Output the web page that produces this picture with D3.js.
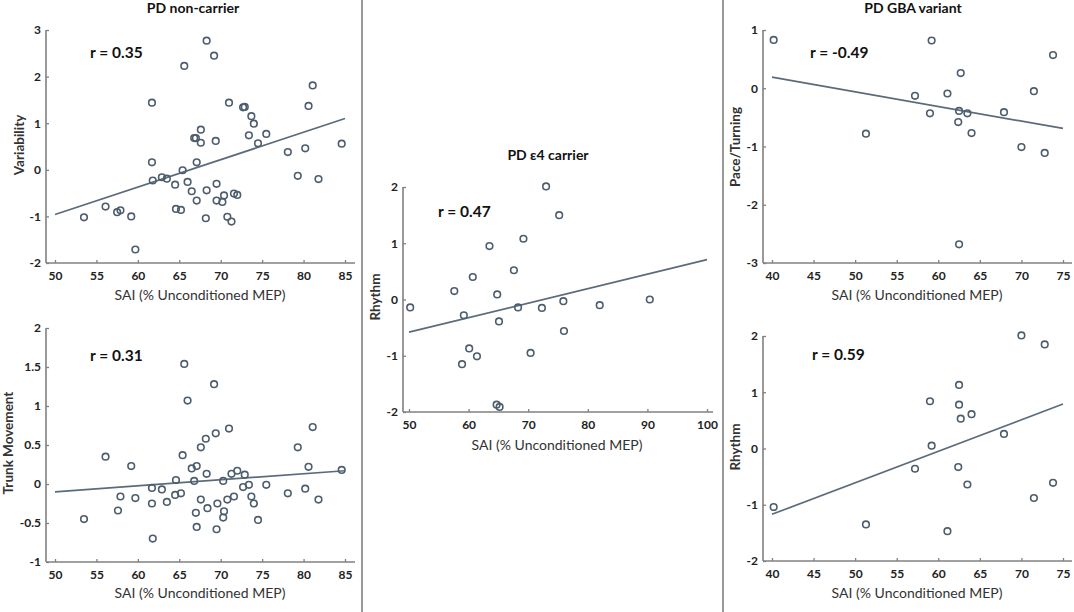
<!DOCTYPE html>
<html lang="en">
<head>
<meta charset="UTF-8">
<title>SAI correlations</title>
<style>
    body { margin: 0; background: #fff; }
    svg { display: block; font-family: Lato, "Open Sans", sans-serif; }
    .tick text { font-size: 12px; font-weight: bold; fill: #222; }
    .tick line { stroke: #808080; stroke-width: 1.3; }
    .axisLine { stroke: #808080; stroke-width: 1.6; }
    .title { font-size: 14px; font-weight: bold; fill: #111; }
    .rLabel { font-size: 15.5px; font-weight: bold; fill: #111; }
    .xLabel { font-size: 14px; fill: #333; }
    .yLabel { font-size: 13.5px; font-weight: bold; fill: #333; }
    .dot { fill: none; stroke: #4d5d6d; stroke-width: 1.6; }
    .fit { stroke: #5b6b7b; stroke-width: 1.7; }
    .sep { stroke: #555; stroke-width: 1.2; }
</style>
</head>
<body>
<svg id="chart"></svg>
<script src="https://d3js.org/d3.v7.min.js"></script>
<script>
    // --- data ---
    const nonCarrierSAI = [53.5, 56.1, 57.5, 57.9, 59.2, 59.7, 61.7, 61.7, 61.8, 62.9, 63.5, 64.5, 64.6, 65.2, 65.4, 65.6,
        66.0, 66.5, 66.8, 67.0, 67.1, 67.1, 67.6, 67.6, 68.2, 68.3, 68.3, 69.2, 69.4, 69.5, 69.5, 70.2, 70.4, 70.8, 71.0,
        71.3, 71.6, 72.0, 72.7, 72.9, 73.4, 73.7, 74.0, 74.5, 75.5, 78.1, 79.3, 80.2, 80.6, 81.1, 81.8, 84.6];
    const variability = [-1.02, -0.79, -0.91, -0.87, -1.0, -1.71, 1.44, 0.16, -0.23, -0.16, -0.19, -0.32, -0.84, -0.86, -0.01, 2.23,
        -0.26, -0.46, 0.68, 0.68, 0.16, -0.66, 0.86, 0.58, -1.04, -0.44, 2.77, 2.45, 0.62, -0.3, -0.66, -0.69, -0.55, -1.01, 1.44,
        -1.11, -0.51, -0.54, 1.34, 1.35, 0.74, 1.15, 0.99, 0.57, 0.77, 0.38, -0.13, 0.46, 1.37, 1.81, -0.2, 0.56];

    const trunkSAI = [53.5, 56.1, 57.6, 57.9, 59.2, 59.7, 61.7, 61.7, 61.8, 62.9, 63.5, 64.5, 64.6, 65.2, 65.4, 65.6, 66.0,
        66.5, 66.8, 67.1, 67.0, 67.1, 67.6, 67.6, 68.2, 68.3, 68.4, 69.2, 69.4, 69.5, 69.6, 70.3, 70.4, 70.3, 71.0, 70.8,
        71.3, 71.6, 72.0, 72.7, 72.9, 73.4, 73.7, 74.0, 74.5, 75.5, 78.1, 79.3, 80.2, 80.6, 81.1, 81.8, 84.6];
    const trunkMovement = [-0.45, 0.35, -0.34, -0.16, 0.23, -0.18, -0.05, -0.25, -0.70, -0.07, -0.23, -0.14, 0.05, -0.12, 0.37,
        1.54, 1.07, 0.20, 0.04, 0.23, -0.37, -0.55, 0.47, -0.20, 0.58, 0.13, -0.31, 1.28, 0.65, -0.58, -0.25, 0.04, -0.35,
        -0.43, 0.71, -0.20, 0.13, -0.16, 0.17, -0.04, 0.12, -0.01, -0.16, -0.25, -0.46, -0.01, -0.12, 0.47, -0.06, 0.22,
        0.73, -0.20, 0.18];

    const e4SAI = [50.2, 57.6, 59.2, 58.9, 60.1, 60.7, 61.4, 63.5, 64.7, 65.2, 64.8, 65.1, 67.6, 68.3, 69.2, 70.4, 72.3,
        73.0, 75.2, 75.9, 76.0, 82.0, 90.4];
    const e4Rhythm = [-0.14, 0.15, -0.28, -1.15, -0.87, 0.40, -1.01, 0.95, -1.87, -1.91, 0.09, -0.39, 0.52, -0.14, 1.08,
        -0.95, -0.15, 2.01, 1.50, -0.03, -0.56, -0.10, 0.0];

    const gbaSAI = [40.2, 51.3, 57.2, 59.0, 59.2, 61.1, 62.4, 62.5, 62.5, 62.7, 63.5, 64.0, 67.9, 70.0, 71.5, 72.8, 73.8];
    const paceTurning = [0.83, -0.78, -0.13, -0.43, 0.82, -0.09, -0.58, -0.39, -2.68, 0.26, -0.43, -0.77, -0.41, -1.01,
        -0.05, -1.11, 0.57];
    const gbaRhythm = [-1.04, -1.35, -0.36, 0.84, 0.05, -1.47, -0.33, 1.13, 0.78, 0.53, -0.64, 0.61, 0.26, 2.01, -0.88,
        1.85, -0.61];

    // fitted line end points [start, end]
    const variabilityFit = [-0.96, 1.1];
    const trunkFit = [-0.10, 0.17];
    const e4Fit = [-0.58, 0.71];
    const paceFit = [0.19, -0.69];
    const gbaRhythmFit = [-1.17, 0.79];

    const ticks50to85 = [50, 55, 60, 65, 70, 75, 80, 85];
    const ticks50to100 = [50, 60, 70, 80, 90, 100];
    const ticks40to75 = [40, 45, 50, 55, 60, 65, 70, 75];
    const variabilityTicks = [-2, -1, 0, 1, 2, 3];
    const trunkTicks = [-1, -0.5, 0, 0.5, 1, 1.5, 2];
    const rhythmTicks = [-2, -1, 0, 1, 2];
    const paceTicks = [-3, -2, -1, 0, 1];

    const xTitle = "SAI (% Unconditioned MEP)";

    const panels = [
        {title: "PD non-carrier", r: "r = 0.35", ylab: "Variability", xs: nonCarrierSAI, ys: variability,
            fit: variabilityFit, xDom: [50, 85], xTicks: ticks50to85, yDom: [-2, 3], yTicks: variabilityTicks,
            xr: [55, 345], yr: [263, 30], axisX: 46, axisEnd: 355, titleXY: [193, 13], rXY: [90, 58],
            xlabXY: [200, 300], ylabXY: [24, 145]},
        {title: null, r: "r = 0.31", ylab: "Trunk Movement", xs: trunkSAI, ys: trunkMovement,
            fit: trunkFit, xDom: [50, 85], xTicks: ticks50to85, yDom: [-1, 2], yTicks: trunkTicks,
            xr: [55, 345], yr: [562, 328], axisX: 46, axisEnd: 355, rXY: [90, 361],
            xlabXY: [200, 598], ylabXY: [13, 443]},
        {title: "PD \u03b54 carrier", r: "r = 0.47", ylab: "Rhythm", xs: e4SAI, ys: e4Rhythm,
            fit: e4Fit, xDom: [50, 100], xTicks: ticks50to100, yDom: [-2, 2], yTicks: rhythmTicks,
            xr: [409, 707], yr: [412, 187], axisX: 403, axisEnd: 713, titleXY: [548, 160], rXY: [438, 217],
            xlabXY: [557, 450], ylabXY: [380, 297]},
        {title: "PD GBA variant", r: "r = -0.49", ylab: "Pace/Turning", xs: gbaSAI, ys: paceTurning,
            fit: paceFit, xDom: [40, 75], xTicks: ticks40to75, yDom: [-3, 1], yTicks: paceTicks,
            xr: [772, 1063], yr: [263, 30], axisX: 763, axisEnd: 1072, titleXY: [913, 13], rXY: [810, 58],
            xlabXY: [917, 300], ylabXY: [740, 147]},
        {title: null, r: "r = 0.59", ylab: "Rhythm", xs: gbaSAI, ys: gbaRhythm,
            fit: gbaRhythmFit, xDom: [40, 75], xTicks: ticks40to75, yDom: [-2, 2], yTicks: rhythmTicks,
            xr: [772, 1063], yr: [561, 336], axisX: 763, axisEnd: 1072, rXY: [812, 360],
            xlabXY: [917, 598], ylabXY: [740, 447]}
    ];

    const width = 1074, height = 612;
    const svg = d3.select("#chart").attr("width", width).attr("height", height);

    // panel separators
    svg.selectAll("line.sep")
        .data([362, 723])
        .join("line")
        .attr("class", "sep")
        .attr("x1", d => d).attr("x2", d => d)
        .attr("y1", 0).attr("y2", height);

    panels.forEach(p => {
        const x = d3.scaleLinear().domain(p.xDom).range(p.xr);
        const y = d3.scaleLinear().domain(p.yDom).range(p.yr);
        const g = svg.append("g");
        const yBottom = p.yr[0];

        const xAxis = d3.axisBottom(x)
            .tickValues(p.xTicks)
            .tickSizeInner(-3)
            .tickSizeOuter(0)
            .tickPadding(8)
            .tickFormat(d3.format("d"));
        g.append("g")
            .attr("transform", `translate(0, ${yBottom})`)
            .call(xAxis)
            .call(s => s.select(".domain").remove())
            .selectAll("text").style("font-family", "Lato, sans-serif");

        const yAxis = d3.axisLeft(y)
            .tickValues(p.yTicks)
            .tickSizeInner(-3)
            .tickSizeOuter(0)
            .tickPadding(5)
            .tickFormat(d => d);
        g.append("g")
            .attr("transform", `translate(${p.axisX}, 0)`)
            .call(yAxis)
            .call(s => s.select(".domain").remove())
            .selectAll("text").style("font-family", "Lato, sans-serif");

        // axis lines
        g.append("line").attr("class", "axisLine")
            .attr("x1", p.axisX).attr("x2", p.axisEnd)
            .attr("y1", yBottom).attr("y2", yBottom);
        g.append("line").attr("class", "axisLine")
            .attr("x1", p.axisX).attr("x2", p.axisX)
            .attr("y1", p.yr[1]).attr("y2", yBottom);

        // regression line
        g.append("line").attr("class", "fit")
            .attr("x1", x(p.xDom[0])).attr("y1", y(p.fit[0]))
            .attr("x2", x(p.xDom[1])).attr("y2", y(p.fit[1]));

        g.selectAll("circle.dot")
            .data(p.xs.map((v, i) => ({sai: v, val: p.ys[i]})))
            .join("circle")
            .attr("class", "dot")
            .attr("cx", d => x(d.sai))
            .attr("cy", d => y(d.val))
            .attr("r", 3.3);

        if (p.title) {
            g.append("text").attr("class", "title")
                .attr("x", p.titleXY[0]).attr("y", p.titleXY[1])
                .attr("text-anchor", "middle")
                .text(p.title);
        }

        g.append("text").attr("class", "rLabel")
            .attr("x", p.rXY[0]).attr("y", p.rXY[1])
            .text(p.r);

        g.append("text").attr("class", "xLabel")
            .attr("x", p.xlabXY[0]).attr("y", p.xlabXY[1])
            .attr("text-anchor", "middle")
            .text(xTitle);

        g.append("text").attr("class", "yLabel")
            .attr("transform", `translate(${p.ylabXY[0]}, ${p.ylabXY[1]}) rotate(-90)`)
            .attr("text-anchor", "middle")
            .text(p.ylab);
    });
</script>
</body>
</html>
